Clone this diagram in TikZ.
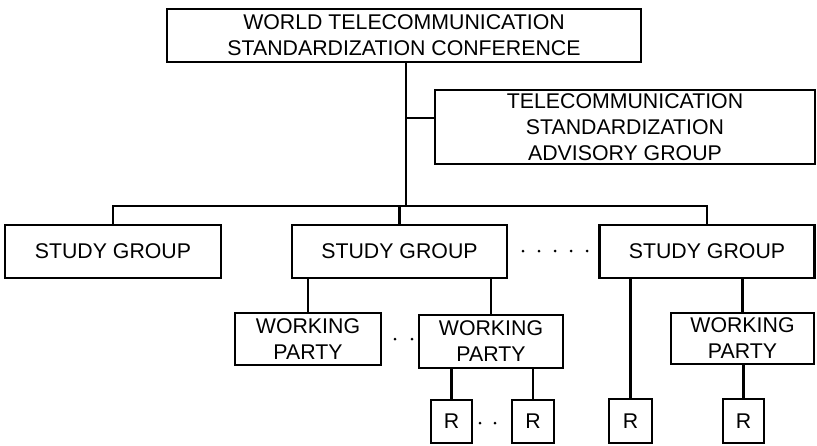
\documentclass[tikz,border=0pt]{standalone}
\usepackage{fontspec}
\setmainfont{Liberation Sans}
\begin{document}
\begin{tikzpicture}[x=1pt,y=-1pt,
  line width=2.4pt,
  box/.style={draw, inner sep=0pt, align=center, font=\fontsize{21.3}{26}\selectfont},
  dot/.style={fill, circle, inner sep=0pt, minimum size=3pt}]
\useasboundingbox (0,0) rectangle (817,445);
% boxes
\node[box, minimum width=474pt, minimum height=53pt] (wtsc) at (404,35.5) {WORLD TELECOMMUNICATION\\STANDARDIZATION CONFERENCE};
\node[box, minimum width=380pt, minimum height=74pt] (tsag) at (625,127) {TELECOMMUNICATION\\STANDARDIZATION\\ADVISORY GROUP};
\node[box, minimum width=216pt, minimum height=53pt] (sg1) at (113,251.5) {STUDY GROUP};
\node[box, minimum width=215pt, minimum height=53pt] (sg2) at (399.5,251.5) {STUDY GROUP};
\node[box, minimum width=215pt, minimum height=53pt] (sg3) at (707,251.5) {STUDY GROUP};
\node[box, minimum width=146pt, minimum height=52pt] (wp1) at (308,339) {WORKING\\PARTY};
\node[box, minimum width=144pt, minimum height=53pt] (wp2) at (491,341.5) {WORKING\\PARTY};
\node[box, minimum width=143pt, minimum height=51pt] (wp3) at (742.5,338.5) {WORKING\\PARTY};
\node[box, minimum width=41pt, minimum height=43pt] (r1) at (451.5,421.5) {R};
\node[box, minimum width=42pt, minimum height=43pt] (r2) at (533,421.5) {R};
\node[box, minimum width=43pt, minimum height=44pt] (r3) at (630.5,421) {R};
\node[box, minimum width=41pt, minimum height=44pt] (r4) at (743.5,421) {R};
% connectors
\coordinate (bus) at (406,206);
\coordinate (tj) at (406,118);
\draw (wtsc.south -| bus) -- (bus);
\draw (tj) -- (tj -| tsag.west);
\draw (sg1.north) |- (bus);
\draw (sg3.north) |- (bus);
\draw (sg2.north) -- (sg2.north |- bus);
\draw (wp1.north) -- (wp1.north |- sg2.south);
\draw (wp2.north) -- (wp2.north |- sg2.south);
\draw (r3.north) -- (r3.north |- sg3.south);
\draw (wp3.north) -- (wp3.north |- sg3.south);
\draw (r1.north) -- (r1.north |- wp2.south);
\draw (r2.north) -- (r2.north |- wp2.south);
\draw (r4.north) -- (r4.north |- wp3.south);
% dots
\foreach \i [count=\k] in {523,539,555,571,587} \node[dot] (d\k) at (\i,251) {};
\node[dot] (e1) at (395,339) {};
\node[dot] (e2) at (412,339) {};
\node[dot] (f1) at (480,423) {};
\node[dot] (f2) at (495,423) {};
\end{tikzpicture}
\end{document}
